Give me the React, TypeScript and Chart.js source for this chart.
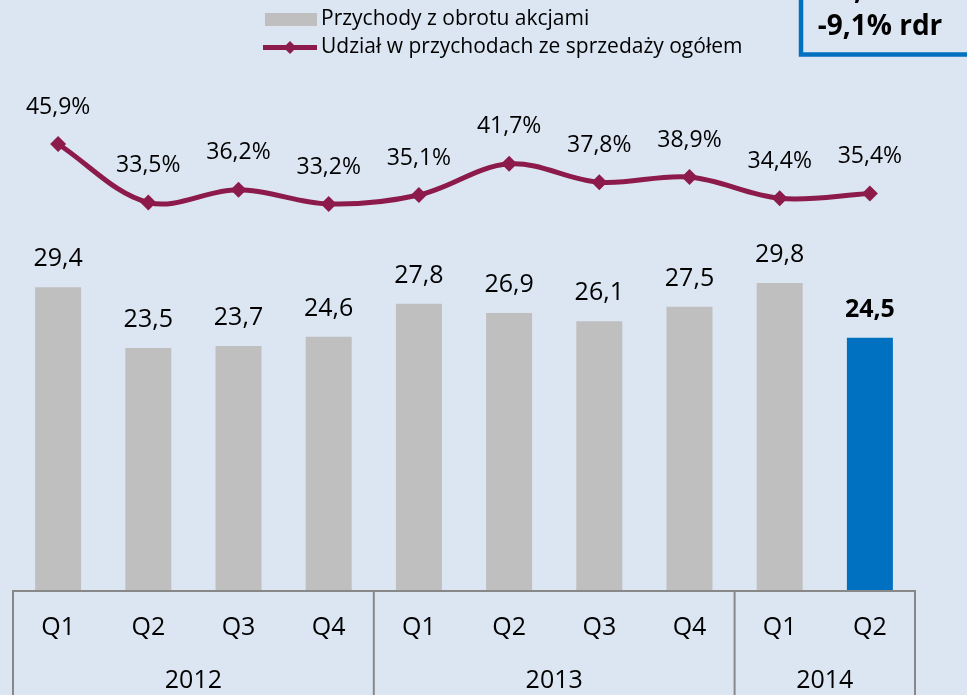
import React, { useEffect, useRef } from "react";
import { Chart, registerables } from "chart.js";

Chart.register(...registerables);

const categories = ["Q1", "Q2", "Q3", "Q4", "Q1", "Q2", "Q3", "Q4", "Q1", "Q2"];
const yearLabels = ["2012", "2013", "2014"];
const yearSpans = [4, 4, 2];
const revenue = [29.4, 23.5, 23.7, 24.6, 27.8, 26.9, 26.1, 27.5, 29.8, 24.5];
const share = [45.9, 33.5, 36.2, 33.2, 35.1, 41.7, 37.8, 38.9, 34.4, 35.4];
const legendBar = "Przychody z obrotu akcjami";
const legendLine = "Udział w przychodach ze sprzedaży ogółem";
const boxText = "-9,1% rdr";

const BG = "#dce6f2";
const GRAY = "#bfbfbf";
const BLUE = "#0070c0";
const MAROON = "#8c1b4b";
const AXIS = "#888888";
const FONT = '"Open Sans", sans-serif';

const fmt = (v: number) => v.toFixed(1).replace(".", ",");

const overlay = {
  id: "overlay",
  afterDraw(chart: any) {
    const ctx = chart.ctx as CanvasRenderingContext2D;
    const area = chart.chartArea;
    const xs = chart.scales.x;
    const H = chart.height;
    const last = revenue.length - 1;
    ctx.save();
    ctx.textAlign = "center";
    ctx.textBaseline = "middle";
    ctx.fillStyle = "#000";

    // bar value labels
    const barMeta = chart.getDatasetMeta(0);
    barMeta.data.forEach((el: any, i: number) => {
      ctx.font = (i === last ? "bold " : "") + "25px " + FONT;
      ctx.fillText(fmt(revenue[i]), el.x, el.y - 28);
    });
    // line labels
    const lineMeta = chart.getDatasetMeta(1);
    lineMeta.data.forEach((el: any, i: number) => {
      ctx.font = "23px " + FONT;
      ctx.fillText(fmt(share[i]) + "%", el.x, el.y - 37);
    });

    // category axis table
    const step = xs.getPixelForValue(1) - xs.getPixelForValue(0);
    const left = xs.getPixelForValue(0) - step / 2;
    const right = xs.getPixelForValue(categories.length - 1) + step / 2;
    ctx.strokeStyle = AXIS;
    ctx.lineWidth = 2;
    ctx.beginPath();
    ctx.moveTo(left, area.bottom + 1);
    ctx.lineTo(right + 1, area.bottom + 1);
    ctx.stroke();
    let idx = 0;
    const bounds = [left];
    yearSpans.forEach((s) => {
      idx += s;
      bounds.push(xs.getPixelForValue(idx - 1) + step / 2);
    });
    bounds.forEach((b) => {
      ctx.beginPath();
      ctx.moveTo(b, area.bottom);
      ctx.lineTo(b, H);
      ctx.stroke();
    });
    ctx.fillStyle = "#000";
    ctx.font = "25px " + FONT;
    categories.forEach((c, i) => {
      ctx.fillText(c, xs.getPixelForValue(i), area.bottom + 38);
    });
    yearLabels.forEach((y, k) => {
      ctx.fillText(y, (bounds[k] + bounds[k + 1]) / 2, area.bottom + 91);
    });

    // legend
    ctx.textAlign = "left";
    ctx.font = "21px " + FONT;
    ctx.fillStyle = GRAY;
    ctx.fillRect(265, 13, 52, 13);
    ctx.fillStyle = "#000";
    ctx.fillText(legendBar, 321, 19);
    ctx.strokeStyle = MAROON;
    ctx.lineWidth = 5;
    ctx.beginPath();
    ctx.moveTo(263, 47.5);
    ctx.lineTo(317, 47.5);
    ctx.stroke();
    ctx.fillStyle = MAROON;
    ctx.beginPath();
    ctx.moveTo(290, 41);
    ctx.lineTo(296.5, 47.5);
    ctx.lineTo(290, 54);
    ctx.lineTo(283.5, 47.5);
    ctx.closePath();
    ctx.fill();
    ctx.fillStyle = "#000";
    ctx.fillText(legendLine, 321, 47);

    // callout box
    ctx.strokeStyle = BLUE;
    ctx.lineWidth = 4.5;
    ctx.strokeRect(801, -10, 200, 64.5);
    ctx.fillStyle = "#000";
    ctx.textAlign = "center";
    ctx.font = "bold 28px " + FONT;
    ctx.fillText(boxText, 880, 27);
    ctx.textBaseline = "alphabetic";
    ctx.fillText(",", 858, -1);
    ctx.restore();
  },
};

export default function App() {
  const ref = useRef<HTMLCanvasElement | null>(null);
  useEffect(() => {
    if (!ref.current) return;
    const chart = new Chart(ref.current, {
      type: "bar",
      data: {
        labels: categories,
        datasets: [
          {
            type: "bar",
            label: legendBar,
            data: revenue,
            backgroundColor: revenue.map((_, i) => (i === revenue.length - 1 ? BLUE : GRAY)),
            categoryPercentage: 1,
            barPercentage: 0.51,
            yAxisID: "y",
            order: 2,
          },
          {
            type: "line",
            label: legendLine,
            data: share,
            borderColor: MAROON,
            backgroundColor: MAROON,
            borderWidth: 5,
            pointStyle: "rectRot",
            pointRadius: 8,
            pointBorderWidth: 0,
            tension: 0.35,
            yAxisID: "y1",
            order: 1,
          } as any,
        ],
      },
      options: {
        responsive: false,
        animation: false,
        devicePixelRatio: 1,
        layout: { padding: { left: 13, right: 52, top: 60, bottom: 105 } },
        plugins: { legend: { display: false }, tooltip: { enabled: false } },
        scales: {
          x: { display: false, offset: true },
          y: { display: false, min: 0, max: 51.46 },
          y1: { display: false, min: -48.59, max: 63.7 },
        },
      },
      plugins: [overlay],
    });
    return () => chart.destroy();
  }, []);
  return (
    <div
      style={{
        position: "fixed",
        left: 0,
        top: 0,
        width: 967,
        height: 695,
        background: BG,
        overflow: "hidden",
      }}
    >
      <canvas ref={ref} width={967} height={695} style={{ display: "block" }} />
    </div>
  );
}
